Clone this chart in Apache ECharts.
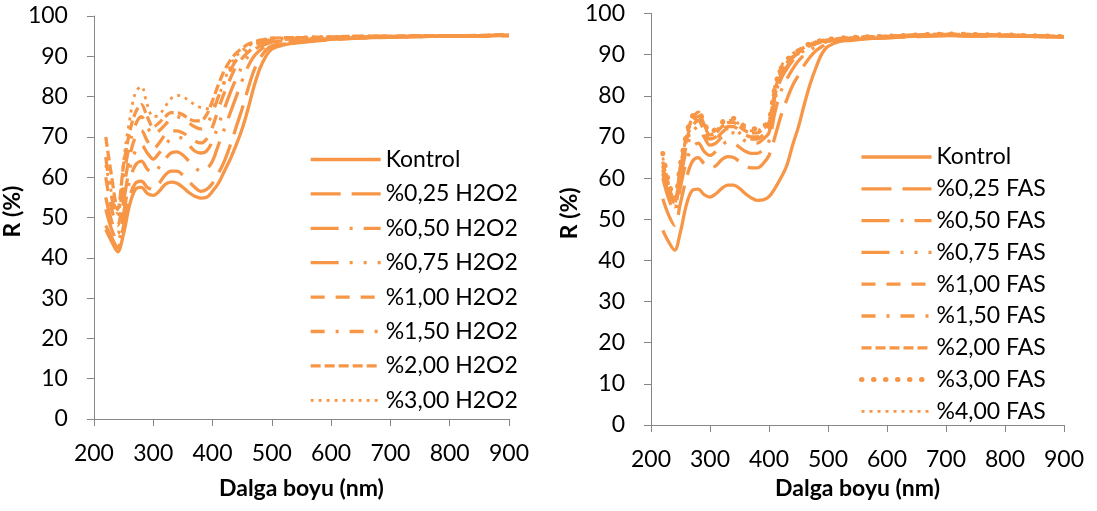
<!DOCTYPE html>
<html>
<head>
<meta charset="utf-8">
<script src="https://cdn.jsdelivr.net/npm/echarts@6/dist/echarts.min.js"></script>
<style>
html,body{margin:0;padding:0;background:#fff;}
#c{width:1097px;height:511px;}
</style>
</head>
<body>
<div id="c"></div>
<script>
// Wavelengths (nm)
var wavelengths = [220,230,240,250,260,270,280,290,300,310,320,330,340,350,360,370,380,390,400,410,420,430,440,450,460,470,480,490,500,520,540,560,600,650,700,750,800,850,900];

// Left chart: H2O2
var namesH = ['Kontrol','%0,25 H2O2','%0,50 H2O2','%0,75 H2O2','%1,00 H2O2','%1,50 H2O2','%2,00 H2O2','%3,00 H2O2'];
var hKontrol = [47,44,41.5,46,53,57,57.5,56,55.5,56.5,58.2,58.8,58.5,57.5,56.2,55.3,54.8,55,56.5,58.5,61.5,64.5,68,72,77,82.5,87,90,91.8,92.8,93.3,93.7,94.2,94.6,94.8,94.9,95,95,95.2];
var h025 = [48,45,42.5,48,55,58.5,59,57.5,57,58.5,60.5,61.5,61.5,60.5,59,57.5,56.5,57,58.5,61,64,68,72.5,77,82,86.5,89.5,91.5,92.6,93,93.3,93.6,94.1,94.5,94.7,94.9,95,95,95.1];
var h050 = [52,47,44,51,59,63,64,62,61,62.5,64.5,66,66.3,65.5,64,62.5,61.5,62,64,68,72,76,80,84,87.5,90,91.5,92.5,93,93.4,93.7,93.9,94.3,94.6,94.8,94.9,95,95,95.2];
var h075 = [55,49,46,54,62,66.5,68,66,64.5,66,68,69.5,70,69.5,68,66.5,66,66.5,69,73,77,81,84.5,87.5,90,91.5,92.5,93,93.5,93.8,94,94.1,94.4,94.7,94.9,95,95,95.1,95.3];
var h100 = [60,52,48,57,65,70,71.5,69,67,68.5,70.5,71.5,71.5,71,70,69,68.5,69.5,72.5,77,81,84.5,87.5,89.5,91,92.3,93,93.5,94,94.2,94.3,94.4,94.6,94.8,94.9,95,95,95.1,95.3];
var h150 = [65,55,50,60,68,73,75,72.5,70.5,71.5,73,74.5,75,74.5,73.5,72.5,72,73,76,80,83.5,86.5,89,90.5,91.8,92.8,93.3,93.8,94.2,94.4,94.5,94.5,94.7,94.9,95,95,95.1,95.1,95.4];
var h200 = [70,60,52,63,71,76,78,75,72.5,73.5,75,76,76,75.5,74.5,74,74,75.5,79,83,86.5,89,90.8,92,93,93.5,94,94.3,94.5,94.6,94.6,94.7,94.8,95,95,95.1,95.1,95.2,95.4];
var h300 = [63,56,51,64,74,81,82.5,78,75,75.5,77.5,79.5,80.3,80,79,78,77.3,77,77.5,80,84,87.5,90,91.5,92.5,93.3,93.8,94.2,94.5,94.6,94.7,94.8,94.9,95,95,95.1,95.1,95.2,95.3];

// Right chart: FAS
var namesF = ['Kontrol','%0,25 FAS','%0,50 FAS','%0,75 FAS','%1,00 FAS','%1,50 FAS','%2,00 FAS','%3,00 FAS','%4,00 FAS'];
var fKontrol = [47.3,44.5,42.5,47,53.5,57,57.3,56,55.4,56.2,57.5,58.3,58.3,57.5,56.2,55.2,54.6,54.7,55.5,57.5,60,63,68,72.5,78,83,87,90.3,92,93.2,93.5,93.8,94.1,94.5,94.6,94.5,94.6,94.4,94.3];
var f025 = [55,51,48.5,54,60,64,65,63.5,62.5,63,64.5,65.2,65,64,63,62.5,62.5,63.5,65.5,70,75,79,82.5,85,87.5,89.5,91,92,92.8,93.4,93.6,93.8,94.1,94.4,94.6,94.5,94.5,94.4,94.3];
var f050 = [60,55,52,58,64,67.5,68.5,66.5,65.5,66.5,68,68.8,68.5,67.5,66.5,66,66,67,69,76,81,84,86.5,88.5,90,91.2,92,92.7,93.2,93.6,93.8,94,94.2,94.5,94.7,94.6,94.6,94.5,94.3];
var f075 = [62,56,53,60,67,71,72.5,70,68,68.5,70,71,71,70,69,68.5,68.5,69.5,71,79,84,86.5,88.5,90,91,92,92.6,93,93.4,93.7,93.9,94.1,94.3,94.6,94.8,94.7,94.7,94.5,94.4];
var f100 = [63,57,54,62,69,73.5,75,72,69.5,70,71.5,72.5,72.5,71.5,70.5,70,70,71,72.5,80,85,87.5,89.2,90.5,91.5,92.3,92.8,93.2,93.5,93.8,94,94.2,94.4,94.7,94.9,94.8,94.7,94.6,94.4];
var f150 = [61,56,53.5,61,68,72.5,74,71.5,69,69.5,71,72,72,71,70,69.5,69.5,70.5,72,79.5,84.5,87,89,90.3,91.3,92.2,92.7,93.1,93.4,93.7,93.9,94.1,94.3,94.6,94.8,94.7,94.7,94.5,94.3];
var f200 = [64,58,54.5,63,70,74.5,76,73,70.5,71,72.5,73.5,73.5,72.5,71.5,71,71,72,73.5,81,86,88,89.5,90.8,91.8,92.5,93,93.3,93.6,93.9,94.1,94.3,94.5,94.8,95,94.9,94.8,94.6,94.4];
var f300 = [66,59,55,63.5,70.5,75,76,73.5,71,72,73.5,74.5,74.5,73.5,72.5,72,72,72.5,74,82,86.5,88.5,90,91,92,92.7,93.1,93.5,93.7,94,94.2,94.3,94.5,94.8,95,94.9,94.8,94.6,94.4];
var f400 = [65,58.5,54,62.5,70,74.8,75.8,73,70.5,71.5,73,74,74,73,72,71.5,71.5,72.5,74,82.5,87,89,90.2,91.2,92,92.7,93.2,93.5,93.8,94,94.2,94.3,94.5,94.8,95,94.9,94.8,94.6,94.4];

var xTicks = [200,300,400,500,600,700,800,900];
var yTicks = [0,10,20,30,40,50,60,70,80,90,100];

var COLOR = '#F79646';
var FONT = 'Lato';
var LW = 3.3;
var styles = {
  solid:   {type:'solid', width:LW, cap:'butt'},
  lgDash:  {type:[30,11], width:LW, cap:'butt'},
  lgDD:    {type:[28,11,3,11], width:LW, cap:'butt'},
  lgDDD:   {type:[28,11,3,11,3,11], width:LW, cap:'butt'},
  dash:    {type:[14,11], width:LW, cap:'butt'},
  dashDot: {type:[14,11,3,11], width:LW, cap:'butt'},
  sysDash: {type:[10,4], width:LW, cap:'butt'},
  sysDot:  {type:[3,5], width:2.8, cap:'butt'},
  roundDot:{type:[0.5,11.5], width:5, cap:'round'}
};

var seriesH = [hKontrol,h025,h050,h075,h100,h150,h200,h300];
var styleH = ['solid','lgDash','lgDD','lgDDD','dash','dashDot','sysDash','sysDot'];
var seriesF = [fKontrol,f025,f050,f075,f100,f150,f200,f300,f400];
var styleF = ['solid','lgDash','lgDD','lgDDD','dash','dashDot','sysDash','roundDot','sysDot'];

function pairs(vals){
  return wavelengths.map(function(w,i){return [w, vals[i]];});
}
var series = [];
var legendH = [], legendF = [];
seriesH.forEach(function(v,i){
  var s = styles[styleH[i]];
  series.push({type:'line', name:namesH[i], xAxisIndex:0, yAxisIndex:0, data:pairs(v),
    smooth:0.35, symbol:'none', showSymbol:false,
    lineStyle:{color:COLOR, width:s.width, type:s.type, cap:s.cap, join:'round'}, itemStyle:{color:COLOR}});
  legendH.push({name:namesH[i], lineStyle:{width:s.width, type:s.type, cap:s.cap, color:COLOR}});
});
seriesF.forEach(function(v,i){
  var s = styles[styleF[i]];
  var nm = (i===0 ? 'Kontrol ' : namesF[i]);
  series.push({type:'line', name:nm, xAxisIndex:1, yAxisIndex:1, data:pairs(v),
    smooth:0.35, symbol:'none', showSymbol:false,
    lineStyle:{color:COLOR, width:s.width, type:s.type, cap:s.cap, join:'round'}, itemStyle:{color:COLOR}});
  legendF.push({name:nm, lineStyle:{width:s.width, type:s.type, cap:s.cap, color:COLOR}});
});

function xAx(idx, margin, gap){
  return {type:'value', gridIndex:idx, min:xTicks[0], max:xTicks[xTicks.length-1], interval:100,
    name:'Dalga boyu (nm)', nameLocation:'middle', nameGap:gap,
    nameTextStyle:{fontFamily:FONT, fontSize:23, fontWeight:'bold', color:'#000'},
    axisLine:{onZero:false, lineStyle:{color:'#868686', width:1}},
    axisTick:{show:true, length:7, lineStyle:{color:'#868686'}},
    axisLabel:{fontFamily:FONT, fontSize:23, color:'#000', margin:margin},
    splitLine:{show:false}};
}
function yAx(idx){
  return {type:'value', gridIndex:idx, min:yTicks[0], max:yTicks[yTicks.length-1], interval:10,
    name:'R (%)', nameLocation:'middle', nameGap:56,
    nameTextStyle:{fontFamily:FONT, fontSize:23, fontWeight:'bold', color:'#000', padding:[0,0,0,12]},
    axisLine:{show:true, onZero:false, lineStyle:{color:'#868686', width:1}},
    axisTick:{show:true, length:7, lineStyle:{color:'#868686'}},
    axisLabel:{fontFamily:FONT, fontSize:23, color:'#000', margin:26},
    splitLine:{show:false}};
}

var legendText = {fontFamily:FONT, fontSize:23, color:'#000', lineHeight:23};
var option = {
  animation:false,
  backgroundColor:'#fff',
  grid:[
    {left:89, top:16, width:420, height:403},
    {left:651, top:13.5, width:413, height:411.5}
  ],
  xAxis:[xAx(0,23,58), xAx(1,23.5,52)],
  yAxis:[yAx(0), yAx(1)],
  legend:[
    {orient:'vertical', left:304, top:143, itemWidth:70, itemHeight:14, itemGap:11.4,
     itemStyle:{opacity:0}, lineStyle:{width:LW},
     textStyle:legendText, data:legendH, selectedMode:false},
    {orient:'vertical', left:854, top:140.5, itemWidth:70, itemHeight:14, itemGap:8.8,
     itemStyle:{opacity:0}, lineStyle:{width:LW},
     textStyle:legendText, data:legendF, selectedMode:false,
     formatter:function(n){return n.trim();}}
  ],
  series:series
};
var chart = echarts.init(document.getElementById('c'), null, {renderer:'canvas'});
chart.setOption(option);
</script>
</body>
</html>
